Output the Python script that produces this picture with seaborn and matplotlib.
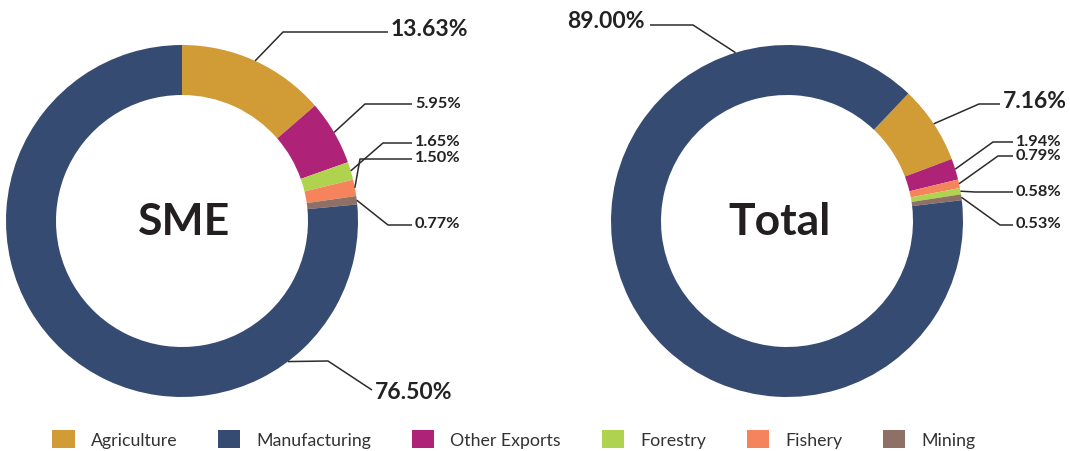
"""
Export share by sector: SME vs Total, two donut charts with leader labels.
"""

import matplotlib
matplotlib.use("Agg")
import matplotlib.pyplot as plt
import numpy as np
import seaborn as sns
from matplotlib.patches import Patch

# ---- data -----------------------------------------------------------------
sectors = ["Agriculture", "Manufacturing", "Other Exports", "Forestry", "Fishery", "Mining"]
palette = ["#D19B35", "#364B72", "#AE2277", "#B0D34F", "#F5845C", "#8F7067"]

sme_sectors = ["Agriculture", "Other Exports", "Forestry", "Fishery", "Mining", "Manufacturing"]
sme_values = [13.63, 5.95, 1.65, 1.50, 0.77, 76.50]

total_sectors = ["Agriculture", "Other Exports", "Fishery", "Forestry", "Mining", "Manufacturing"]
total_values = [7.16, 1.94, 0.79, 0.58, 0.53, 89.00]

# ---- layout (image pixels, y down) ----------------------------------------
W, H = 1070, 452
RADIUS, RING = 176, 50
SMALL, BIG = 11.8, 16.5

# per label: anchor angle (None = wedge middle), elbow, line end, font size, side
sme_labels = [
    (None, (283, 33), (388, 33), BIG, "left"),
    (None, (365, 105), (412, 105), SMALL, "left"),
    (None, (383, 144), (412, 144), SMALL, "left"),
    (None, (360, 160), (412, 160), SMALL, "left"),
    (None, (388, 226), (412, 226), SMALL, "left"),
    (-53, (328, 362), (372, 391), BIG, "left"),
]
total_labels = [
    (None, (979, 105), (1000, 105), BIG, "left"),
    (None, (993, 143), (1013, 143), SMALL, "left"),
    (None, (998, 157), (1013, 157), SMALL, "left"),
    (None, (975, 193), (1013, 193), SMALL, "left"),
    (None, (1000, 226), (1013, 226), SMALL, "left"),
    (107, (693, 26), (650, 26), BIG, "right"),
]

sns.set_theme(style="white")
plt.rcParams["font.family"] = ["Lato", "DejaVu Sans"]

color_of = dict(zip(sectors, palette))


def py(y):
    return H - y


def draw_donut(ax, names, values, center_px, start, title, title_dx, labels):
    cx, cy = center_px[0], py(center_px[1])
    wedges, _ = ax.pie(values, colors=[color_of[n] for n in names], startangle=start,
                       counterclock=False, radius=RADIUS, center=(cx, cy),
                       wedgeprops=dict(width=RING, edgecolor="none", linewidth=0))
    for w, v, (ang, elbow, end, size, side) in zip(wedges, values, labels):
        if ang is None:
            ang = (w.theta1 + w.theta2) / 2
        a = np.deg2rad(ang)
        ax_, ay_ = cx + RADIUS * np.cos(a), cy + RADIUS * np.sin(a)
        xs = [ax_, elbow[0], end[0]]
        ys = [ay_, py(elbow[1]), py(end[1])]
        ax.plot(xs, ys, color="#2b2b2b", lw=1.1, solid_capstyle="butt")
        big = size > 12
        if side == "left":
            tx, ha = end[0] + 3, "left"
        else:
            tx, ha = end[0] - 5, "right"
        ty = py(end[1]) + (4 if big else 1.5)
        if big and ang < 0:
            ty = py(end[1]) - 2
        ax.text(tx, ty, f"{v:.2f}%", ha=ha, va="center", fontsize=size,
                fontweight="bold", color="#222222")
    ax.text(cx + title_dx, cy, title, ha="center", va="center", fontsize=32,
            fontweight="bold", color="#231f20")


fig = plt.figure(figsize=(W / 100, H / 100), dpi=100)
ax = fig.add_axes([0, 0, 1, 1])
draw_donut(ax, sme_sectors, sme_values, (182, 222), 90, "SME", 2, sme_labels)
draw_donut(ax, total_sectors, total_values, (787, 222), 46.4, "Total", -8, total_labels)
ax.set_xlim(0, W)
ax.set_ylim(0, H)
ax.set_aspect("equal")
ax.axis("off")

handles = [Patch(facecolor=c, edgecolor="none", label=s) for s, c in zip(sectors, palette)]
fig.legend(handles=handles, loc="center", bbox_to_anchor=(514 / W, 1 - 440 / H), ncol=6,
           frameon=False, fontsize=12.8, handlelength=1.25, handleheight=1.25,
           handletextpad=0.9, columnspacing=2.3, labelcolor="#333333")

fig.savefig("out.png", dpi=100)
